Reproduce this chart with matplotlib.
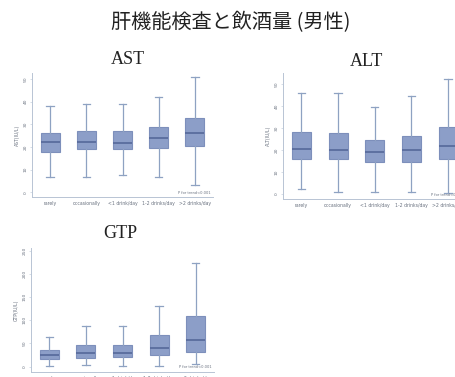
import matplotlib
matplotlib.use("Agg")
import matplotlib.pyplot as plt

categories = ["rarely", "occasionally", "<1 drink/day", "1-2 drinks/day", ">2 drinks/day"]

# AST (IU/L)
ast_low = [6.9, 6.8, 7.6, 6.6, 3.5]
ast_q1 = [17.9, 19.0, 19.0, 19.7, 20.6]
ast_med = [22.4, 22.1, 21.8, 23.8, 26.0]
ast_q3 = [26.3, 27.2, 27.0, 29.0, 32.6]
ast_high = [38.2, 39.0, 39.0, 41.9, 50.7]

# ALT (IU/L)
alt_low = [2.1, 0.9, 0.9, 0.8, 0.6]
alt_q1 = [16.0, 16.0, 14.7, 14.6, 15.7]
alt_med = [20.3, 20.0, 19.0, 19.9, 21.6]
alt_q3 = [28.1, 27.9, 24.6, 26.4, 30.4]
alt_high = [45.9, 45.9, 39.7, 44.7, 52.4]

# GTP (IU/L)
gtp_low = [2.2, 4.3, 0.5, 0.5, 6.5]
gtp_q1 = [17.3, 19.5, 20.2, 25.2, 32.4]
gtp_med = [24.5, 29.5, 29.5, 39.6, 56.9]
gtp_q3 = [35.3, 46.1, 47.6, 67.7, 108.8]
gtp_high = [63.4, 87.2, 87.2, 131.8, 223.0]

ast_ticks = [0, 10, 20, 30, 40, 50]
alt_ticks = [0, 10, 20, 30, 40, 50]
gtp_ticks = [0, 50, 100, 150, 200, 250]

W, H = 455, 377
fig = plt.figure(figsize=(W / 100, H / 100), dpi=100)
fig.patch.set_facecolor("white")

BOX_FACE = "#8c9ec8"
BOX_EDGE = "#7d8fbb"
MED = "#55689a"
WHISK = "#8ea2c2"
SPINE = "#b8c4d4"
TXT = "#6a7280"


def px_axes(left, top, right, bottom):
    return fig.add_axes([left / W, 1 - bottom / H, (right - left) / W, (bottom - top) / H])


def panel(ax, lows, q1s, meds, q3s, highs, ticks, ylim, ylabel):
    stats = []
    for lo, a, m, b, hi, lab in zip(lows, q1s, meds, q3s, highs, categories):
        stats.append(dict(whislo=lo, q1=a, med=m, q3=b, whishi=hi, fliers=[], label=lab))
    ax.bxp(stats, positions=range(1, 6), widths=0.52, patch_artist=True,
           showfliers=False, capwidths=0.2,
           boxprops=dict(facecolor=BOX_FACE, edgecolor=BOX_EDGE, linewidth=0.8),
           medianprops=dict(color=MED, linewidth=1.2),
           whiskerprops=dict(color=WHISK, linewidth=0.9),
           capprops=dict(color=WHISK, linewidth=0.9))
    ax.set_xlim(0.5, 5.5)
    ax.set_ylim(*ylim)
    ax.set_yticks(ticks)
    ax.set_yticklabels([str(t) for t in ticks], rotation=90, va="center",
                       fontsize=3.2, color=TXT)
    ax.set_xticks(range(1, 6))
    ax.set_xticklabels(categories, fontsize=3.3, color=TXT)
    ax.tick_params(axis="y", length=1.5, width=0.4, color=SPINE, pad=1.5)
    ax.tick_params(axis="x", length=0, pad=3)
    for s in ("top", "right"):
        ax.spines[s].set_visible(False)
    for s in ("left", "bottom"):
        ax.spines[s].set_color(SPINE)
        ax.spines[s].set_linewidth(0.7)
    ax.set_ylabel(ylabel, fontsize=3.3, color=TXT, labelpad=3)
    ax.text(0.985, 0.02, "P for trend<0.001", transform=ax.transAxes,
            ha="right", va="bottom", fontsize=2.6, color=TXT)


ax1 = px_axes(32, 73, 213, 197)
panel(ax1, ast_low, ast_q1, ast_med, ast_q3, ast_high, ast_ticks, (-2, 52.6), "AST(IU/L)")

ax2 = px_axes(283, 73, 466.5, 199.3)
panel(ax2, alt_low, alt_q1, alt_med, alt_q3, alt_high, alt_ticks, (-2.4, 55), "ALT(IU/L)")

ax3 = px_axes(31, 248, 214, 371.7)
panel(ax3, gtp_low, gtp_q1, gtp_med, gtp_q3, gtp_high, gtp_ticks, (-11, 256.5), "GTP(IU/L)")

serif = ["Liberation Serif", "DejaVu Serif"]
fig.text(128 / W, 1 - 60 / H, "AST", ha="center", va="center", fontsize=13, family=serif, color="#222222")
fig.text(367 / W, 1 - 61 / H, "ALT", ha="center", va="center", fontsize=13, family=serif, color="#222222")
fig.text(120 / W, 1 - 233 / H, "GTP", ha="center", va="center", fontsize=13, family=serif, color="#222222")

fig.text(231 / W, 1 - 23 / H, "肝機能検査と飲酒量 (男性)", ha="center", va="center",
         fontsize=14.5, family=["Noto Sans CJK JP", "DejaVu Sans"], color="#222222")

fig.savefig("out.png", dpi=100)
